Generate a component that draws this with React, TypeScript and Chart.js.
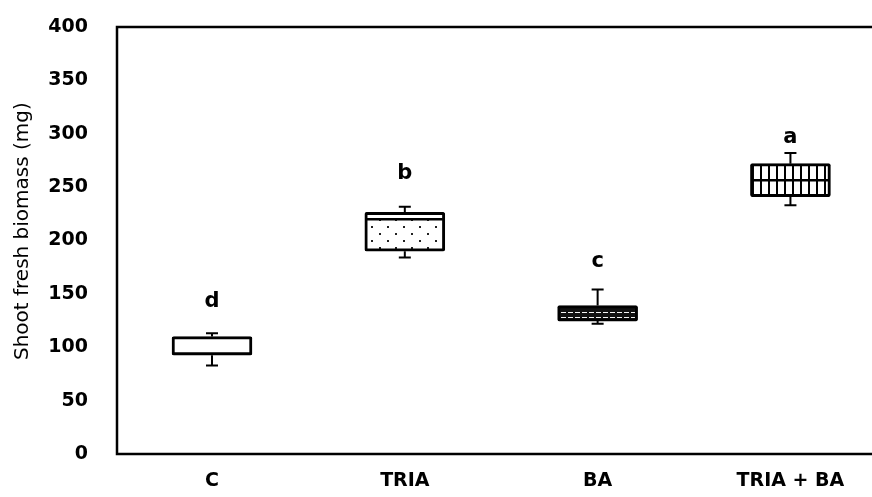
import React, { useEffect, useRef } from "react";
import { Chart, registerables } from "chart.js";

Chart.register(...registerables);

const CATEGORIES = ["C", "TRIA", "BA", "TRIA + BA"];
const WHISKER_LOW = [83, 184, 122, 233];
const Q1 = [92.5, 190, 124.5, 241];
const MEDIAN = [94, 220, 131, 256.5];
const Q3 = [110, 226.5, 139, 272];
const WHISKER_HIGH = [113, 231.5, 154, 282];
const LETTERS = ["d", "b", "c", "a"];
const LETTER_Y = [143, 263, 180, 296];
const PATTERNS = ["none", "dots", "dashes", "vlines"];
const Y_MIN = 0;
const Y_MAX = 400;
const Y_STEP = 50;
const Y_TITLE = "Shoot fresh biomass (mg)";

function makePattern(kind: string): CanvasPattern | string {
  if (kind === "none") return "#ffffff";
  const c = document.createElement("canvas");
  const g = c.getContext("2d")!;
  if (kind === "dots") {
    c.width = 16;
    c.height = 14;
    g.fillStyle = "#fff";
    g.fillRect(0, 0, 16, 14);
    g.fillStyle = "#222";
    g.fillRect(3, 2, 2, 2);
    g.fillRect(11, 9, 2, 2);
  } else if (kind === "dashes") {
    c.width = 7;
    c.height = 5;
    g.fillStyle = "#111";
    g.fillRect(0, 0, 7, 5);
    g.fillStyle = "#f4f4f4";
    g.fillRect(1, 2, 5, 1);
  } else if (kind === "vlines") {
    c.width = 8;
    c.height = 4;
    g.fillStyle = "#fff";
    g.fillRect(0, 0, 8, 4);
    g.fillStyle = "#000";
    g.fillRect(0, 0, 2, 4);
  }
  return g.createPattern(c, "repeat")!;
}

const boxPlugin = {
  id: "boxExtras",
  afterDatasetsDraw(chart: any) {
    const { ctx, chartArea, scales } = chart;
    const xs = scales.x;
    const ys = scales.y;
    ctx.save();
    ctx.strokeStyle = "#000";
    ctx.lineCap = "butt";
    CATEGORIES.forEach((_, i) => {
      const x = xs.getPixelForValue(i);
      const half = 40;
      if (PATTERNS[i] !== "dashes") {
        ctx.lineWidth = 2.5;
        ctx.beginPath();
        ctx.moveTo(x - half + 2, ys.getPixelForValue(MEDIAN[i]));
        ctx.lineTo(x + half - 2, ys.getPixelForValue(MEDIAN[i]));
        ctx.stroke();
      }
      ctx.lineWidth = 2;
      const yq3 = ys.getPixelForValue(Q3[i]);
      const yhi = ys.getPixelForValue(WHISKER_HIGH[i]);
      const yq1 = ys.getPixelForValue(Q1[i]);
      const ylo = ys.getPixelForValue(WHISKER_LOW[i]);
      ctx.beginPath();
      ctx.moveTo(x, yq3);
      ctx.lineTo(x, yhi);
      ctx.moveTo(x - 6, yhi);
      ctx.lineTo(x + 6, yhi);
      ctx.moveTo(x, yq1);
      ctx.lineTo(x, ylo);
      ctx.moveTo(x - 6, ylo);
      ctx.lineTo(x + 6, ylo);
      ctx.stroke();
      ctx.fillStyle = "#000";
      ctx.font = "bold 21px 'DejaVu Sans'";
      ctx.textAlign = "center";
      ctx.textBaseline = "middle";
      ctx.fillText(LETTERS[i], x, ys.getPixelForValue(LETTER_Y[i]));
    });
    // frame: left, top, bottom
    ctx.lineWidth = 2.5;
    ctx.beginPath();
    ctx.moveTo(chartArea.right + 2, chartArea.top);
    ctx.lineTo(chartArea.left, chartArea.top);
    ctx.lineTo(chartArea.left, chartArea.bottom);
    ctx.lineTo(chartArea.right + 2, chartArea.bottom);
    ctx.stroke();
    // y axis title
    ctx.translate(23, chartArea.top + (chartArea.bottom - chartArea.top) * 0.478);
    ctx.rotate(-Math.PI / 2);
    ctx.font = "20px 'DejaVu Sans'";
    ctx.textAlign = "center";
    ctx.textBaseline = "middle";
    ctx.fillStyle = "#000";
    ctx.fillText(Y_TITLE, 0, 0);
    ctx.restore();
  },
};

export default function App() {
  const ref = useRef<HTMLCanvasElement>(null);
  useEffect(() => {
    const canvas = ref.current!;
    const chart = new Chart(canvas, {
      type: "bar",
      data: {
        datasets: [
          {
            data: CATEGORIES.map((_, i) => ({ x: i, y: [Q1[i], Q3[i]] })) as any,
            backgroundColor: PATTERNS.map((p) => makePattern(p)) as any,
            borderColor: "#000",
            borderWidth: 3,
            borderSkipped: false,
            borderRadius: 2,
            barThickness: 80,
          },
        ],
      },
      options: {
        animation: false,
        responsive: true,
        maintainAspectRatio: false,
        layout: { padding: { left: 6, top: 27, right: 0, bottom: 4 } },
        plugins: { legend: { display: false }, tooltip: { enabled: false } },
        scales: {
          x: {
            type: "linear",
            offset: false,
            min: -0.4927,
            max: 3.423,
            grid: { display: false, drawTicks: false },
            border: { display: false },
            afterBuildTicks: (scale: any) => {
              scale.ticks = CATEGORIES.map((_, i) => ({ value: i }));
            },
            afterFit: (scale: any) => {
              scale.height = 39;
              scale.paddingLeft = 0;
              scale.paddingRight = 0;
            },
            ticks: {
              padding: 16,
              color: "#000",
              font: { family: "'DejaVu Sans'", size: 19, weight: "bold" },
              callback: (v: any) => CATEGORIES[Math.round(Number(v))] ?? "",
            },
          },
          y: {
            min: Y_MIN,
            max: Y_MAX,
            grid: { display: false, drawTicks: false },
            border: { display: false },
            afterFit: (scale: any) => {
              scale.width = 111;
              scale.paddingTop = 0;
              scale.paddingBottom = 0;
            },
            ticks: {
              stepSize: Y_STEP,
              padding: 29,
              color: "#000",
              font: { family: "'DejaVu Sans'", size: 19, weight: "bold" },
            },
          },
        },
      },
      plugins: [boxPlugin],
    });
    return () => chart.destroy();
  }, []);
  return (
    <div style={{ position: "fixed", left: 0, top: 0, width: 872, height: 497, background: "#fff" }}>
      <canvas ref={ref} />
    </div>
  );
}
